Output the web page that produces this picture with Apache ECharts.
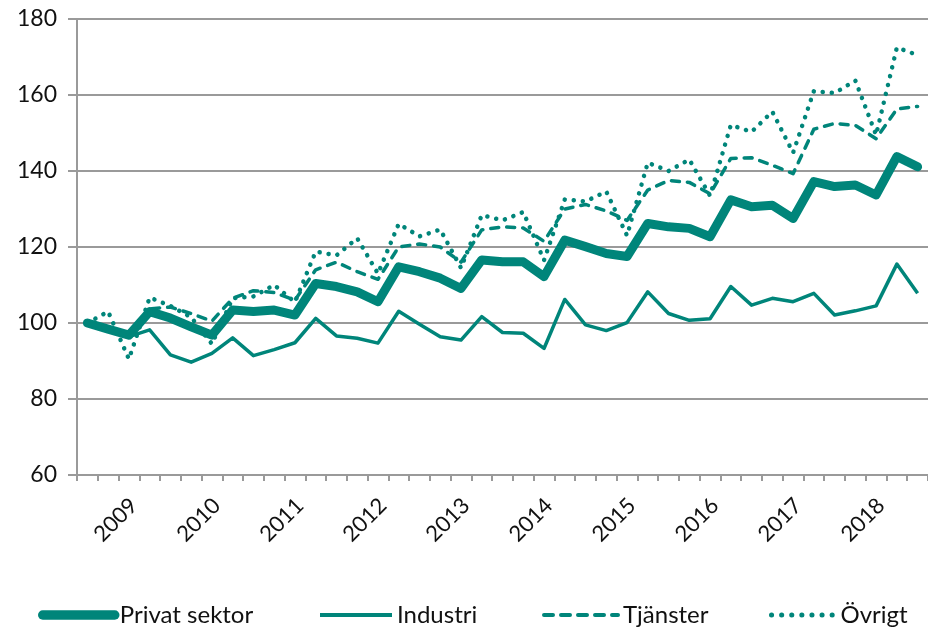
<!DOCTYPE html>
<html>
<head>
<meta charset="utf-8">
<script src="https://cdn.jsdelivr.net/npm/echarts@6/dist/echarts.min.js"></script>
<style>
  html, body { margin: 0; padding: 0; background: #fff; }
  #chart { width: 928px; height: 630px; }
</style>
</head>
<body>
<div id="chart"></div>
<script>
// quarterly index, first quarter = 100
var quarters = [
  '2009K1','2009K2','2009K3','2009K4','2010K1','2010K2','2010K3','2010K4',
  '2011K1','2011K2','2011K3','2011K4','2012K1','2012K2','2012K3','2012K4',
  '2013K1','2013K2','2013K3','2013K4','2014K1','2014K2','2014K3','2014K4',
  '2015K1','2015K2','2015K3','2015K4','2016K1','2016K2','2016K3','2016K4',
  '2017K1','2017K2','2017K3','2017K4','2018K1','2018K2','2018K3','2018K4',
  '2019K1'
];

var privatSektor = [100, 98.4, 96.8, 103, 101.3, 99, 96.8, 103.4, 103, 103.4,
  102.1, 110.4, 109.6, 108.2, 105.6, 114.8, 113.5, 111.8, 109.1, 116.6,
  116.1, 116.1, 112.2, 121.8, 120.1, 118.3, 117.5, 126.2, 125.3, 124.9,
  122.7, 132.4, 130.6, 131, 127.5, 137.2, 135.9, 136.3, 133.7, 143.8, 141.1];

var industri = [100, 98.4, 96.4, 98.2, 91.6, 89.7, 92, 96.1, 91.4, 93,
  94.8, 101.2, 96.6, 96, 94.7, 103.1, 99.7, 96.4, 95.5, 101.7,
  97.5, 97.3, 93.3, 106.2, 99.5, 98, 100.1, 108.2, 102.5, 100.7,
  101.1, 109.6, 104.7, 106.5, 105.6, 107.8, 102.1, 103.2, 104.5, 115.5, 107.8];

var tjanster = [100, 98.5, 96.5, 103.7, 104.2, 102.5, 100.5, 106.5, 108.5, 108,
  106, 114, 116, 113.5, 111.5, 120, 120.8, 120, 116, 124.5,
  125.3, 125, 121.5, 130, 131.2, 129.5, 127, 135, 137.5, 137,
  134, 143.3, 143.5, 141.5, 139.3, 151, 152.5, 152, 148.5, 156.3, 157];

var ovrigt = [100, 103, 90.5, 106.7, 104.5, 101.5, 94.5, 106.5, 107, 110,
  105.5, 118.8, 117.8, 122.3, 113, 126.1, 122.8, 124.6, 114.5, 128.4,
  127, 129.2, 116.5, 132.5, 132, 134.6, 123, 142.2, 140, 143,
  133.5, 152.1, 150.3, 155.6, 144.8, 161, 160.5, 163.8, 149.5, 172.5, 170.5];

var yTicks = { min: 60, max: 180, step: 20 };

var teal = '#00857a';
var gridGray = '#9a9a9a';
var font = 'Lato, "Liberation Sans", sans-serif';

var chart = echarts.init(document.getElementById('chart'), null, { renderer: 'canvas' });

// one legend per series so each item sits where it does in the original
function legendFor(name, left, width, lineStyle) {
  return {
    data: [name],
    left: left,
    top: 603,
    padding: 0,
    itemWidth: width,
    itemHeight: 12,
    selectedMode: false,
    lineStyle: lineStyle,
    itemStyle: { opacity: 0, borderWidth: 0 },
    textStyle: { fontFamily: font, fontSize: 24, color: '#111' }
  };
}

var option = {
  animation: false,
  grid: { left: 77, top: 19, width: 857, height: 456 },
  legend: [
    legendFor('Privat sektor', 38, 72, { width: 9.5, cap: 'round' }),
    legendFor('Industri', 318, 72, { width: 4 }),
    legendFor('Tjänster', 542, 74, { width: 4, type: [9, 8], cap: 'round' }),
    legendFor('Övrigt', 769, 64, { width: 5, type: [0.1, 10], cap: 'round' })
  ],
  xAxis: {
    type: 'category',
    data: quarters,
    boundaryGap: true,
    axisLine: { lineStyle: { color: gridGray, width: 2 } },
    axisTick: { show: true, interval: 0, length: 6, lineStyle: { color: gridGray, width: 2 } },
    axisLabel: {
      interval: function (index) { return index % 4 === 2; },
      formatter: function (v) { return v.slice(0, 4); },
      rotate: 45,
      margin: 22,
      verticalAlign: 'top',
      lineHeight: 14,
      fontFamily: font,
      fontSize: 22,
      color: '#111'
    },
    splitLine: { show: false }
  },
  yAxis: {
    type: 'value',
    min: yTicks.min,
    max: yTicks.max,
    interval: yTicks.step,
    axisLine: { show: true, lineStyle: { color: gridGray, width: 2 } },
    axisTick: { show: true, length: 9, lineStyle: { color: gridGray, width: 2 } },
    axisLabel: { margin: 20, fontFamily: font, fontSize: 23, color: '#111' },
    splitLine: { show: true, lineStyle: { color: gridGray, width: 2 } }
  },
  series: [
    {
      name: 'Privat sektor', type: 'line', data: privatSektor,
      symbol: 'none', color: teal,
      lineStyle: { width: 9, cap: 'round', join: 'round' }
    },
    {
      name: 'Industri', type: 'line', data: industri,
      symbol: 'none', color: teal,
      lineStyle: { width: 3.5, join: 'round' }
    },
    {
      name: 'Tjänster', type: 'line', data: tjanster,
      symbol: 'none', color: teal,
      lineStyle: { width: 3.5, type: [8, 8], cap: 'round', join: 'round' }
    },
    {
      name: 'Övrigt', type: 'line', data: ovrigt,
      symbol: 'none', color: teal,
      lineStyle: { width: 4.5, type: [0.1, 9], cap: 'round', join: 'round' }
    }
  ]
};

chart.setOption(option);
</script>
</body>
</html>
